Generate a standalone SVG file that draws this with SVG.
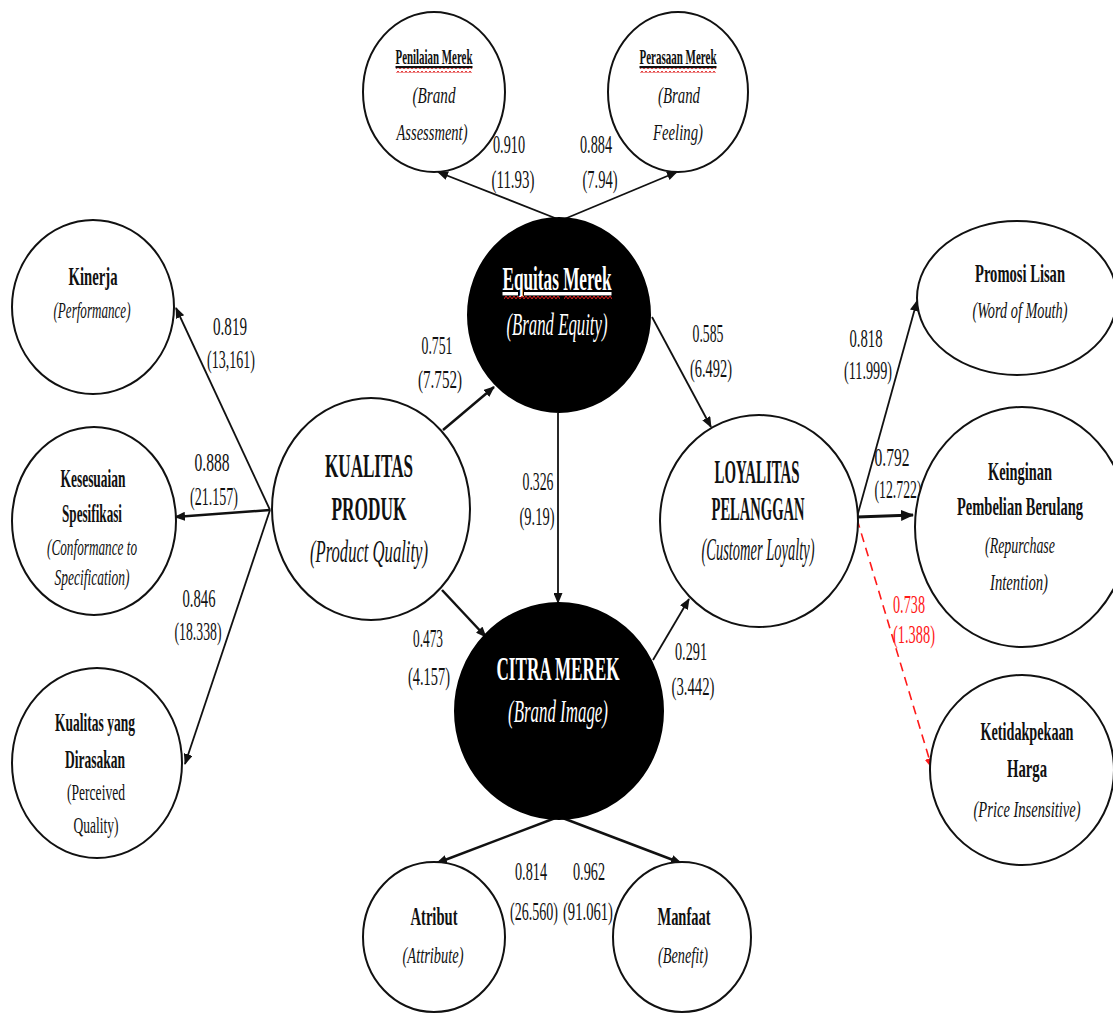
<svg xmlns="http://www.w3.org/2000/svg" width="1113" height="1019" viewBox="0 0 1113 1019">
<style>
text{font-family:"Liberation Serif","Times New Roman",serif;text-anchor:middle;fill:#111;}
.num{font-size:26px;}
.red{fill:#ff1a1a;}
.b{font-weight:bold;}
.i{font-style:italic;}
.s22{font-size:22px;}
.s23{font-size:23px;}
.s26{font-size:26px;}
.s32{font-size:32px;}
.s34{font-size:34px;}
.w{fill:#fff;}
.node{fill:#fff;stroke:#111;stroke-width:2;}
.dark{fill:#000;stroke:#000;stroke-width:2;}
.c{stroke:#111;stroke-width:1.8;fill:none;marker-end:url(#ah);}
</style>
<defs>
<marker id="ah" markerUnits="userSpaceOnUse" markerWidth="11" markerHeight="9" refX="10" refY="4.5" orient="auto"><path d="M0,0 L11,4.5 L0,9 z" fill="#111"/></marker>
<marker id="ahr" markerUnits="userSpaceOnUse" markerWidth="11" markerHeight="9" refX="10" refY="4.5" orient="auto"><path d="M0,0 L11,4.5 L0,9 z" fill="#ff1a1a"/></marker>
<marker id="ahb" markerUnits="userSpaceOnUse" markerWidth="13" markerHeight="11" refX="12" refY="5.5" orient="auto"><path d="M0,0 L13,5.5 L0,11 z" fill="#111"/></marker>
<pattern id="wavy" width="4" height="5" patternUnits="userSpaceOnUse"><path d="M0,4 L2,1 L4,4" stroke="#e02020" stroke-width="1" fill="none"/></pattern>
</defs>
<rect width="1113" height="1019" fill="#fff"/>

<g id="connectors">
<path class="c" d="M560,220 L438,172"/>
<path class="c" d="M562,220 L677,172"/>
<path class="c" d="M270,510 L176,308"/>
<path class="c" d="M270,510 L175,517" style="stroke-width:2.5"/>
<path class="c" d="M270,510 L185,764"/>
<path class="c" d="M443,430 L494,387" style="stroke-width:2.5"/>
<path class="c" d="M442,590 L486,637" style="stroke-width:2.5"/>
<path class="c" d="M558,413 L558,603"/>
<path class="c" d="M652,317 L711,427"/>
<path class="c" d="M653,660 L689,599"/>
<path class="c" d="M857,517 L917,301"/>
<path d="M857,517 L913,515" stroke="#111" stroke-width="3.2" fill="none" marker-end="url(#ahb)"/>
<path d="M857,519 L932,768" stroke="#ff1a1a" stroke-width="1.6" stroke-dasharray="9,6" fill="none" marker-end="url(#ahr)"/>
<path class="c" d="M558,817 L437,863" style="stroke-width:2.5"/>
<path class="c" d="M560,817 L681,863" style="stroke-width:2.5"/>
</g>

<g id="labels">
<text class="num" x="509" y="153" textLength="32" lengthAdjust="spacingAndGlyphs">0.910</text>
<text class="num" x="513" y="188" textLength="43" lengthAdjust="spacingAndGlyphs">(11.93)</text>
<text class="num" x="596" y="153" textLength="32" lengthAdjust="spacingAndGlyphs">0.884</text>
<text class="num" x="600" y="188" textLength="35" lengthAdjust="spacingAndGlyphs">(7.94)</text>
<text class="num" x="230" y="335" textLength="34" lengthAdjust="spacingAndGlyphs">0.819</text>
<text class="num" x="231" y="368" textLength="48" lengthAdjust="spacingAndGlyphs">(13,161)</text>
<text class="num" x="212" y="471" textLength="35" lengthAdjust="spacingAndGlyphs">0.888</text>
<text class="num" x="214" y="505" textLength="48" lengthAdjust="spacingAndGlyphs">(21.157)</text>
<text class="num" x="199" y="607" textLength="33" lengthAdjust="spacingAndGlyphs">0.846</text>
<text class="num" x="198" y="640" textLength="47" lengthAdjust="spacingAndGlyphs">(18.338)</text>
<text class="num" x="437" y="354" textLength="31" lengthAdjust="spacingAndGlyphs">0.751</text>
<text class="num" x="440" y="388" textLength="44" lengthAdjust="spacingAndGlyphs">(7.752)</text>
<text class="num" x="708" y="342" textLength="31" lengthAdjust="spacingAndGlyphs">0.585</text>
<text class="num" x="711" y="377" textLength="42" lengthAdjust="spacingAndGlyphs">(6.492)</text>
<text class="num" x="538" y="490" textLength="31" lengthAdjust="spacingAndGlyphs">0.326</text>
<text class="num" x="537" y="525" textLength="35" lengthAdjust="spacingAndGlyphs">(9.19)</text>
<text class="num" x="428" y="647" textLength="30" lengthAdjust="spacingAndGlyphs">0.473</text>
<text class="num" x="429" y="685" textLength="42" lengthAdjust="spacingAndGlyphs">(4.157)</text>
<text class="num" x="691" y="660" textLength="32" lengthAdjust="spacingAndGlyphs">0.291</text>
<text class="num" x="693" y="695" textLength="43" lengthAdjust="spacingAndGlyphs">(3.442)</text>
<text class="num" x="866" y="347" textLength="33" lengthAdjust="spacingAndGlyphs">0.818</text>
<text class="num" x="868" y="379" textLength="48" lengthAdjust="spacingAndGlyphs">(11.999)</text>
<text class="num" x="892" y="466" textLength="35" lengthAdjust="spacingAndGlyphs">0.792</text>
<text class="num" x="898" y="498" textLength="47" lengthAdjust="spacingAndGlyphs">(12.722)</text>
<text class="num red" x="909" y="613" textLength="32" lengthAdjust="spacingAndGlyphs">0.738</text>
<text class="num red" x="914" y="643" textLength="42" lengthAdjust="spacingAndGlyphs">(1.388)</text>
<text class="num" x="531" y="880" textLength="32" lengthAdjust="spacingAndGlyphs">0.814</text>
<text class="num" x="534" y="920" textLength="48" lengthAdjust="spacingAndGlyphs">(26.560)</text>
<text class="num" x="589" y="880" textLength="32" lengthAdjust="spacingAndGlyphs">0.962</text>
<text class="num" x="588" y="920" textLength="50" lengthAdjust="spacingAndGlyphs">(91.061)</text>
</g>

<g id="penilaian-merek">
<ellipse class="node" cx="434" cy="92" rx="71" ry="80"/>
<text class="b s22" x="434" y="64" textLength="77" lengthAdjust="spacingAndGlyphs" text-decoration="underline">Penilaian Merek</text>
<rect x="396" y="68" width="76" height="5" fill="url(#wavy)"/>
<text class="i s23" x="434" y="103" textLength="43" lengthAdjust="spacingAndGlyphs">(Brand</text>
<text class="i s23" x="432" y="140" textLength="71" lengthAdjust="spacingAndGlyphs">Assessment)</text>
</g>

<g id="perasaan-merek">
<ellipse class="node" cx="678" cy="92" rx="70" ry="80"/>
<text class="b s22" x="678" y="64" textLength="77" lengthAdjust="spacingAndGlyphs" text-decoration="underline">Perasaan Merek</text>
<rect x="640" y="68" width="76" height="5" fill="url(#wavy)"/>
<text class="i s23" x="679" y="103" textLength="42" lengthAdjust="spacingAndGlyphs">(Brand</text>
<text class="i s23" x="678" y="140" textLength="50" lengthAdjust="spacingAndGlyphs">Feeling)</text>
</g>

<g id="equitas-merek">
<ellipse class="dark" cx="559" cy="315" rx="91" ry="97"/>
<text class="b s34 w" x="557" y="290" textLength="109" lengthAdjust="spacingAndGlyphs" text-decoration="underline">Equitas Merek</text>
<rect x="504" y="295" width="56" height="5" fill="url(#wavy)"/>
<rect x="564" y="295" width="48" height="5" fill="url(#wavy)"/>
<text class="i s32 w" x="557" y="335" textLength="101" lengthAdjust="spacingAndGlyphs">(Brand Equity)</text>
</g>

<g id="kualitas-produk">
<ellipse class="node" cx="371" cy="509" rx="99" ry="111"/>
<text class="b s34" x="369" y="477" textLength="88" lengthAdjust="spacingAndGlyphs">KUALITAS</text>
<text class="b s34" x="369" y="520" textLength="75" lengthAdjust="spacingAndGlyphs">PRODUK</text>
<text class="i s32" x="369" y="562" textLength="118" lengthAdjust="spacingAndGlyphs">(Product Quality)</text>
</g>

<g id="citra-merek">
<ellipse class="dark" cx="559" cy="711" rx="104" ry="108"/>
<text class="b s34 w" x="558" y="680" textLength="123" lengthAdjust="spacingAndGlyphs">CITRA MEREK</text>
<text class="i s32 w" x="558" y="722" textLength="100" lengthAdjust="spacingAndGlyphs">(Brand Image)</text>
</g>

<g id="loyalitas-pelanggan">
<ellipse class="node" cx="759" cy="521" rx="99" ry="106"/>
<text class="b s34" x="757" y="483" textLength="85" lengthAdjust="spacingAndGlyphs">LOYALITAS</text>
<text class="b s34" x="758" y="520" textLength="93" lengthAdjust="spacingAndGlyphs">PELANGGAN</text>
<text class="i s32" x="758" y="560" textLength="113" lengthAdjust="spacingAndGlyphs">(Customer Loyalty)</text>
</g>

<g id="kinerja">
<ellipse class="node" cx="93" cy="307" rx="81" ry="87"/>
<text class="b s26" x="93" y="285" textLength="49" lengthAdjust="spacingAndGlyphs">Kinerja</text>
<text class="i s23" x="92" y="318" textLength="77" lengthAdjust="spacingAndGlyphs">(Performance)</text>
</g>

<g id="kesesuaian-spesifikasi">
<ellipse class="node" cx="94" cy="521" rx="82" ry="94"/>
<text class="b s26" x="93" y="487" textLength="65" lengthAdjust="spacingAndGlyphs">Kesesuaian</text>
<text class="b s26" x="92" y="522" textLength="60" lengthAdjust="spacingAndGlyphs">Spesifikasi</text>
<text class="i s23" x="92" y="555" textLength="90" lengthAdjust="spacingAndGlyphs">(Conformance to</text>
<text class="i s23" x="92" y="585" textLength="75" lengthAdjust="spacingAndGlyphs">Specification)</text>
</g>

<g id="kualitas-dirasakan">
<ellipse class="node" cx="97" cy="763" rx="85" ry="95"/>
<text class="b s26" x="95" y="731" textLength="80" lengthAdjust="spacingAndGlyphs">Kualitas yang</text>
<text class="b s26" x="95" y="768" textLength="60" lengthAdjust="spacingAndGlyphs">Dirasakan</text>
<text class="s23" x="96" y="800" textLength="58" lengthAdjust="spacingAndGlyphs">(Perceived</text>
<text class="s23" x="96" y="833" textLength="45" lengthAdjust="spacingAndGlyphs">Quality)</text>
</g>

<g id="promosi-lisan">
<ellipse class="node" cx="1017" cy="298" rx="100" ry="77"/>
<text class="b s26" x="1020" y="282" textLength="90" lengthAdjust="spacingAndGlyphs">Promosi Lisan</text>
<text class="i s23" x="1020" y="318" textLength="95" lengthAdjust="spacingAndGlyphs">(Word of Mouth)</text>
</g>

<g id="keinginan-pembelian">
<ellipse class="node" cx="1022" cy="527" rx="107" ry="120"/>
<text class="b s26" x="1020" y="480" textLength="64" lengthAdjust="spacingAndGlyphs">Keinginan</text>
<text class="b s26" x="1020" y="515" textLength="126" lengthAdjust="spacingAndGlyphs">Pembelian Berulang</text>
<text class="i s23" x="1020" y="553" textLength="70" lengthAdjust="spacingAndGlyphs">(Repurchase</text>
<text class="i s23" x="1019" y="590" textLength="58" lengthAdjust="spacingAndGlyphs">Intention)</text>
</g>

<g id="ketidakpekaan-harga">
<ellipse class="node" cx="1022" cy="770" rx="92" ry="95"/>
<text class="b s26" x="1027" y="740" textLength="93" lengthAdjust="spacingAndGlyphs">Ketidakpekaan</text>
<text class="b s26" x="1027" y="777" textLength="40" lengthAdjust="spacingAndGlyphs">Harga</text>
<text class="i s23" x="1027" y="817" textLength="107" lengthAdjust="spacingAndGlyphs">(Price Insensitive)</text>
</g>

<g id="atribut">
<ellipse class="node" cx="434" cy="937" rx="71" ry="75"/>
<text class="b s26" x="434" y="925" textLength="47" lengthAdjust="spacingAndGlyphs">Atribut</text>
<text class="i s23" x="433" y="963" textLength="61" lengthAdjust="spacingAndGlyphs">(Attribute)</text>
</g>

<g id="manfaat">
<ellipse class="node" cx="682" cy="937" rx="69" ry="75"/>
<text class="b s26" x="684" y="925" textLength="53" lengthAdjust="spacingAndGlyphs">Manfaat</text>
<text class="i s23" x="683" y="963" textLength="50" lengthAdjust="spacingAndGlyphs">(Benefit)</text>
</g>
</svg>
